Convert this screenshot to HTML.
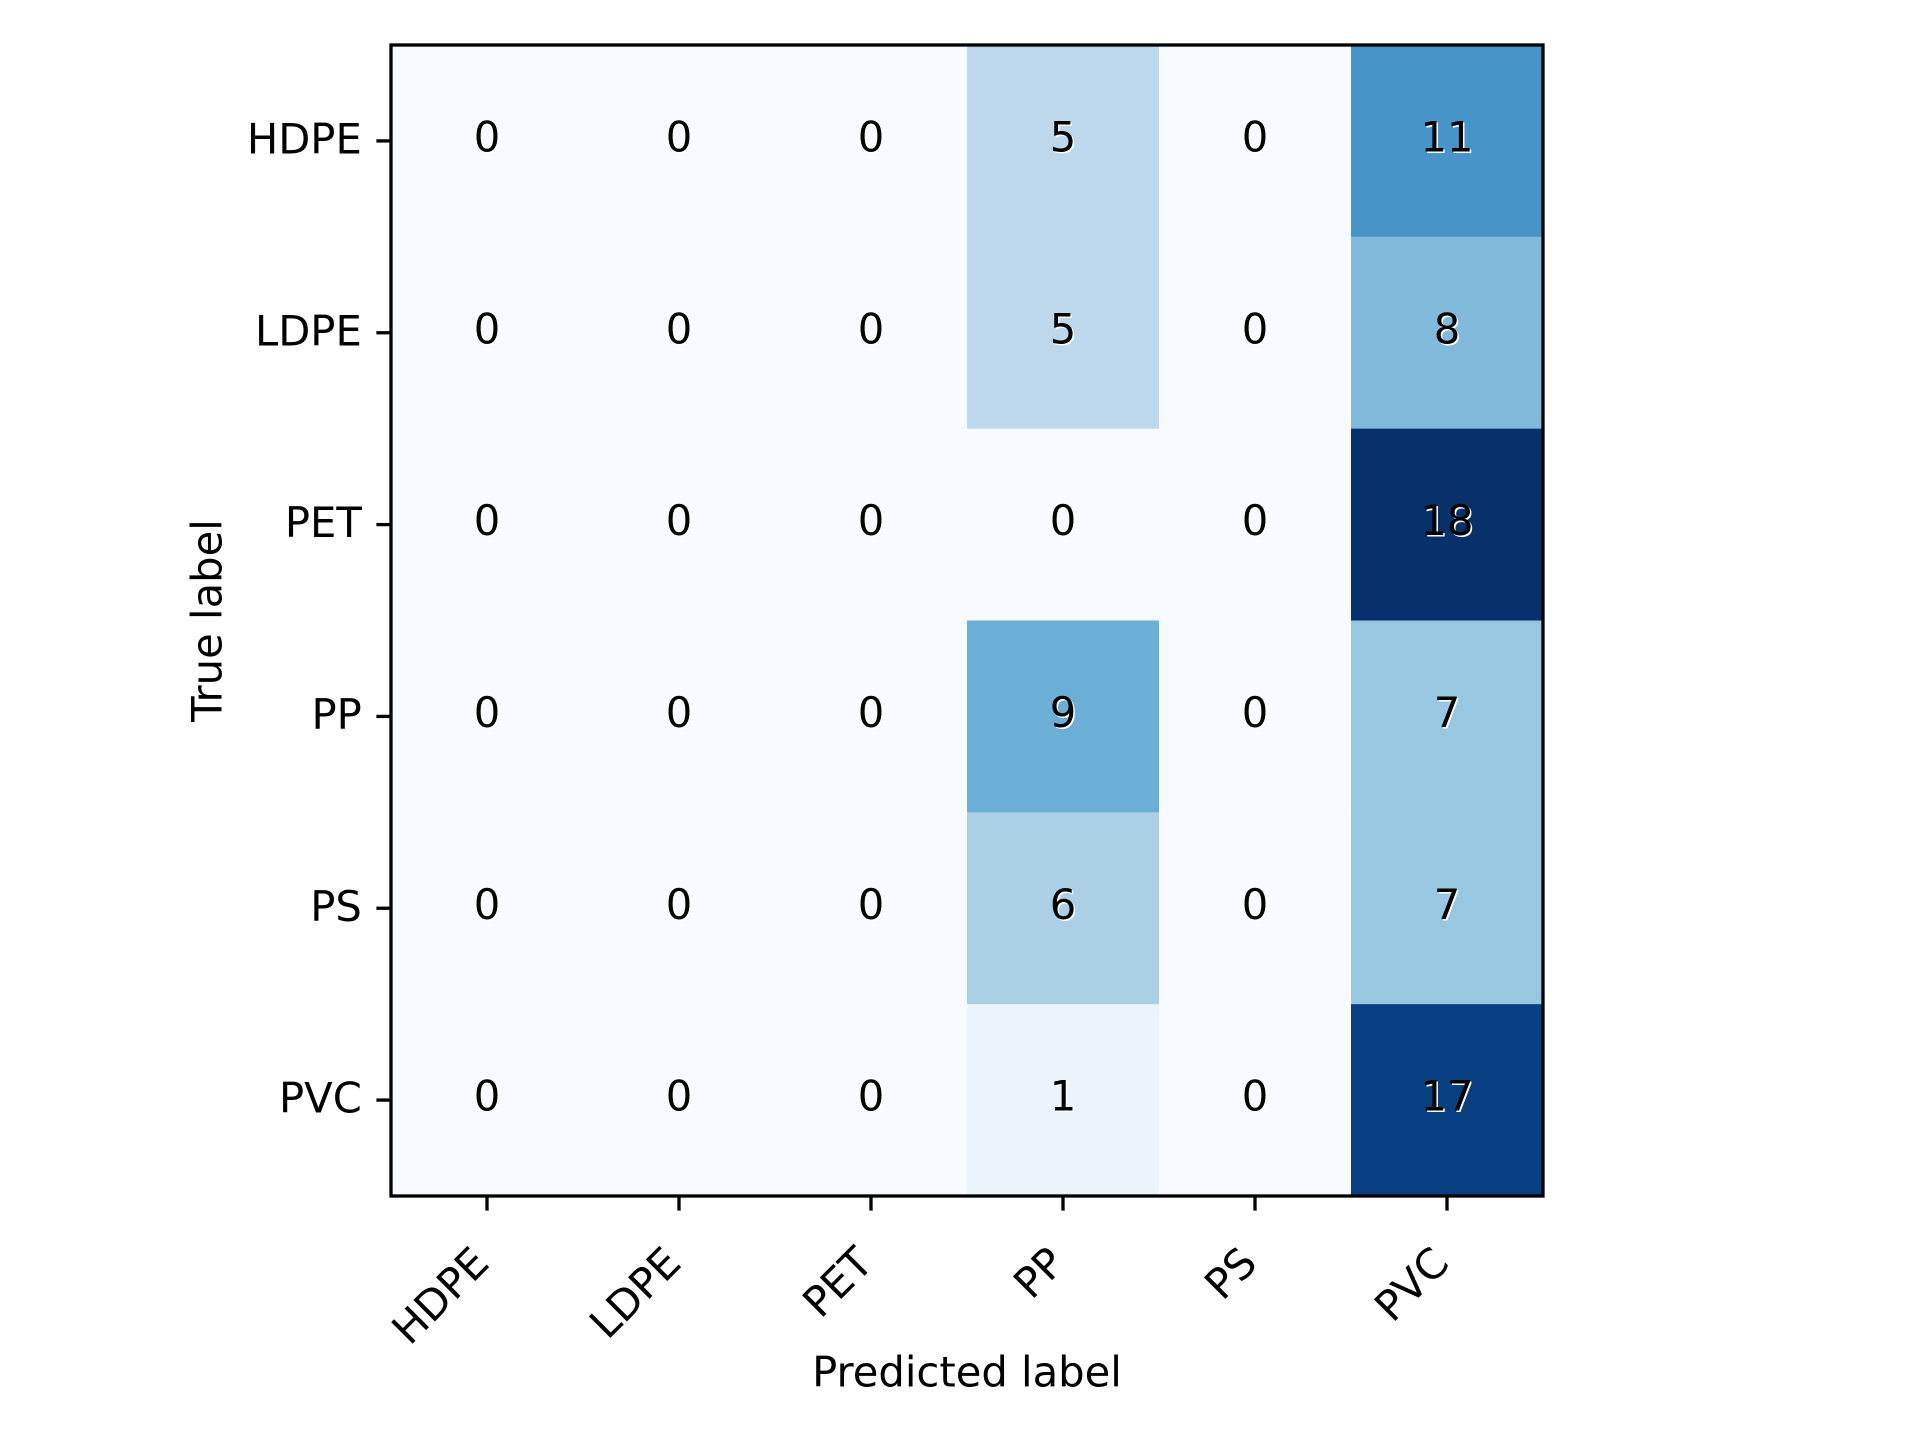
<!DOCTYPE html>
<html><head><meta charset="utf-8"><style>
html,body{margin:0;padding:0;background:#fff;}
svg{display:block;}
text{font-family:"DejaVu Sans","Liberation Sans",sans-serif;}
</style></head><body>
<svg id="chart" width="1920" height="1440" viewBox="0 0 1920 1440" xmlns="http://www.w3.org/2000/svg"></svg>
<script>
const categories = ["HDPE","LDPE","PET","PP","PS","PVC"];
const row0 = [0,0,0,5,0,11];
const row1 = [0,0,0,5,0,8];
const row2 = [0,0,0,0,0,18];
const row3 = [0,0,0,9,0,7];
const row4 = [0,0,0,6,0,7];
const row5 = [0,0,0,1,0,17];
const matrix = [row0,row1,row2,row3,row4,row5];

const NS = "http://www.w3.org/2000/svg";
const svg = document.getElementById("chart");
const L = 391, T = 45, R = 1543, B = 1196;
const n = categories.length;
const cw = (R - L) / n, ch = (B - T) / n;
const xPos = i => L + cw * (i + 0.5);
const yPos = i => T + ch * (i + 0.5);
const FS = 41.7;
let vmax = 0; matrix.forEach(r => r.forEach(v => { if (v > vmax) vmax = v; }));

const stops = [[247,251,255],[222,235,247],[198,219,239],[158,202,225],[107,174,214],[66,146,198],[33,113,181],[8,81,156],[8,48,107]];
function blues(t){
  t = Math.max(0, Math.min(1, t));
  const p = t * (stops.length - 1), i = Math.min(Math.floor(p), stops.length - 2), f = p - i;
  const c = stops[i].map((a, k) => Math.round(a + (stops[i+1][k] - a) * f));
  return `rgb(${c[0]},${c[1]},${c[2]})`;
}
function mk(tag, attrs, parent){
  const e = document.createElementNS(NS, tag);
  for (const k in attrs) e.setAttribute(k, attrs[k]);
  (parent || svg).appendChild(e);
  return e;
}

matrix.forEach((row, r) => row.forEach((v, c) => {
  const rect = mk("rect", {x: L + c * cw, y: T + r * ch, width: cw + 0.5, height: ch + 0.5, fill: blues(v / vmax)});
  
  
}));

matrix.forEach((row, r) => row.forEach((v, c) => {
  const g = mk("g", {});
  
  
  const w = mk("text", {x: xPos(c) + 1.5, y: yPos(r) - 4 + 1.5, "font-size": FS, "text-anchor": "middle", "dominant-baseline": "central", fill: "#fff"}, g);
  w.textContent = v;
  const t = mk("text", {x: xPos(c), y: yPos(r) - 4, "font-size": FS, "text-anchor": "middle", "dominant-baseline": "central", fill: "#000"}, g);
  t.textContent = v;
}));

const frame = mk("rect", {x: L, y: T, width: R - L, height: B - T, fill: "none", stroke: "#000", "stroke-width": 3.3});



categories.forEach((cat, i) => {
  const yt = mk("line", {x1: L - 14.6, x2: L, y1: yPos(i), y2: yPos(i), stroke: "#000", "stroke-width": 3.3});
  
  
  const yl = mk("text", {x: L - 14.6 - 14.6, y: yPos(i) - 2, "font-size": FS, "text-anchor": "end", "dominant-baseline": "central", fill: "#000"});
  yl.textContent = cat;
  
  

  const xt = mk("line", {x1: xPos(i), x2: xPos(i), y1: B, y2: B + 14.6, stroke: "#000", "stroke-width": 3.3});
  
  
  const ax = xPos(i) - 18, ay = B + 14.6 + 14.6 + 18;
  const xl = mk("text", {x: ax, y: ay, "font-size": FS, "text-anchor": "end", "dominant-baseline": "hanging", fill: "#000", transform: `rotate(-45 ${ax} ${ay})`});
  xl.textContent = cat;
  
  
});

const yTitle = mk("text", {x: 207, y: (T + B) / 2, "font-size": FS, "text-anchor": "middle", "dominant-baseline": "central", fill: "#000", transform: `rotate(-90 207 ${(T + B) / 2})`});
yTitle.textContent = "True label";



const xTitle = mk("text", {x: (L + R) / 2, y: 1372, "font-size": FS, "text-anchor": "middle", "dominant-baseline": "central", fill: "#000"});
xTitle.textContent = "Predicted label";


</script>
</body></html>
